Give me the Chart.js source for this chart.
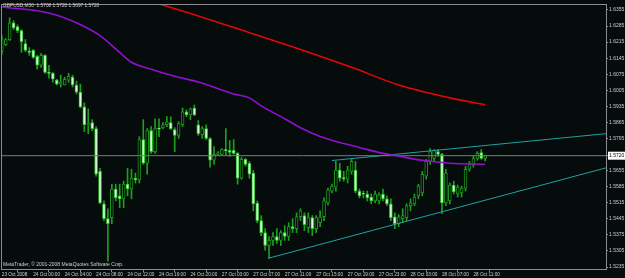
<!DOCTYPE html>
<html>
<head>
<meta charset="utf-8">
<script src="https://cdn.jsdelivr.net/npm/chart.js@4.4.1/dist/chart.umd.min.js"></script>
<style>
  html, body { margin: 0; padding: 0; background: #060b0b; }
</style>
</head>
<body>
<canvas id="grafico" width="625" height="278"></canvas>
<script>
// --- textos del gráfico
const simbolo = 'GBPUSD,M30';
const copyright = 'MetaTrader, \u00A9 2001-2008 MetaQuotes Software Corp.';

// --- eje de tiempo: barra -> etiqueta
const barrasTiempo = [0, 8, 16, 24, 32, 40, 48, 56, 64, 72, 80, 88, 96, 104, 112, 120];
const etiquetasTiempo = ['23 Oct 2008', '24 Oct 00:00', '24 Oct 04:00', '24 Oct 08:00', '24 Oct 12:00',
  '24 Oct 16:00', '24 Oct 20:00', '27 Oct 03:00', '27 Oct 07:00', '27 Oct 11:00', '27 Oct 15:00',
  '27 Oct 19:00', '27 Oct 23:00', '28 Oct 03:00', '28 Oct 07:00', '28 Oct 11:00'];

// --- eje de precios (derecha)
const preciosEje = [1.6355, 1.6285, 1.6215, 1.6145, 1.6075, 1.6005, 1.5935, 1.5865, 1.5795,
  1.5655, 1.5585, 1.5515, 1.5445, 1.5375, 1.5305, 1.5235];

// --- velas M30 (open, high, low, close)
const aperturas = [1.6174, 1.6204, 1.6226, 1.6299, 1.6282, 1.6265, 1.6209, 1.6174, 1.6179, 1.6153,
  1.6114, 1.6157, 1.6083, 1.6079, 1.6049, 1.6032, 1.6028, 1.6049, 1.6062, 1.6028,
  1.5997, 1.5933, 1.5855, 1.5864, 1.5838, 1.5652, 1.5510, 1.5446, 1.5450, 1.5575,
  1.5545, 1.5532, 1.5596, 1.5575, 1.5622, 1.5614, 1.5790, 1.5687, 1.5829, 1.5738,
  1.5838, 1.5842, 1.5855, 1.5864, 1.5834, 1.5808, 1.5855, 1.5911, 1.5898, 1.5928,
  1.5855, 1.5812, 1.5838, 1.5795, 1.5700, 1.5726, 1.5726, 1.5743, 1.5743, 1.5743,
  1.5730, 1.5622, 1.5704, 1.5687, 1.5644, 1.5514, 1.5437, 1.5385, 1.5329, 1.5351,
  1.5368, 1.5351, 1.5385, 1.5368, 1.5411, 1.5402, 1.5454, 1.5459, 1.5407, 1.5450,
  1.5402, 1.5428, 1.5454, 1.5514, 1.5566, 1.5583, 1.5657, 1.5622, 1.5618, 1.5652,
  1.5657, 1.5566, 1.5553, 1.5553, 1.5540, 1.5523, 1.5523, 1.5553, 1.5532, 1.5510,
  1.5454, 1.5424, 1.5446, 1.5450, 1.5502, 1.5510, 1.5545, 1.5558, 1.5631, 1.5695,
  1.5708, 1.5738, 1.5726, 1.5514, 1.5523, 1.5592, 1.5553, 1.5558, 1.5579, 1.5661,
  1.5682, 1.5708, 1.5734, 1.5708];
const maximos = [1.6243, 1.6230, 1.6321, 1.6308, 1.6290, 1.6269, 1.6226, 1.6191, 1.6183, 1.6157,
  1.6166, 1.6161, 1.6114, 1.6083, 1.6053, 1.6071, 1.6062, 1.6079, 1.6071, 1.6045,
  1.6032, 1.5950, 1.5924, 1.5877, 1.5847, 1.5665, 1.5523, 1.5489, 1.5596, 1.5596,
  1.5596, 1.5609, 1.5665, 1.5661, 1.5644, 1.5803, 1.5877, 1.5838, 1.5847, 1.5881,
  1.5881, 1.5864, 1.5890, 1.5890, 1.5842, 1.5868, 1.5928, 1.5920, 1.5928, 1.5941,
  1.5873, 1.5847, 1.5855, 1.5799, 1.5760, 1.5738, 1.5751, 1.5838, 1.5786, 1.5790,
  1.5734, 1.5713, 1.5708, 1.5695, 1.5657, 1.5523, 1.5459, 1.5402, 1.5368, 1.5385,
  1.5402, 1.5394, 1.5415, 1.5428, 1.5446, 1.5471, 1.5489, 1.5471, 1.5471, 1.5459,
  1.5459, 1.5480, 1.5536, 1.5579, 1.5596, 1.5695, 1.5687, 1.5652, 1.5674, 1.5704,
  1.5695, 1.5575, 1.5566, 1.5566, 1.5553, 1.5566, 1.5558, 1.5575, 1.5545, 1.5532,
  1.5471, 1.5463, 1.5489, 1.5510, 1.5532, 1.5553, 1.5596, 1.5652, 1.5704, 1.5751,
  1.5747, 1.5747, 1.5730, 1.5661, 1.5601, 1.5609, 1.5592, 1.5588, 1.5674, 1.5695,
  1.5717, 1.5738, 1.5747, 1.5720];
const minimos = [1.6161, 1.6200, 1.6222, 1.6269, 1.6256, 1.6170, 1.6174, 1.6157, 1.6144, 1.6097,
  1.6105, 1.6079, 1.6058, 1.6040, 1.6028, 1.6019, 1.6028, 1.6040, 1.6019, 1.5989,
  1.5928, 1.5825, 1.5816, 1.5829, 1.5631, 1.5510, 1.5437, 1.5260, 1.5424, 1.5523,
  1.5493, 1.5493, 1.5545, 1.5532, 1.5601, 1.5601, 1.5682, 1.5639, 1.5730, 1.5730,
  1.5803, 1.5838, 1.5847, 1.5834, 1.5738, 1.5795, 1.5847, 1.5890, 1.5877, 1.5894,
  1.5808, 1.5795, 1.5790, 1.5670, 1.5682, 1.5721, 1.5721, 1.5721, 1.5717, 1.5726,
  1.5596, 1.5618, 1.5674, 1.5622, 1.5480, 1.5428, 1.5372, 1.5308, 1.5273, 1.5329,
  1.5338, 1.5329, 1.5351, 1.5351, 1.5385, 1.5385, 1.5437, 1.5394, 1.5385, 1.5372,
  1.5385, 1.5411, 1.5437, 1.5506, 1.5558, 1.5566, 1.5609, 1.5609, 1.5601, 1.5639,
  1.5558, 1.5536, 1.5536, 1.5523, 1.5510, 1.5514, 1.5510, 1.5523, 1.5502, 1.5437,
  1.5402, 1.5411, 1.5428, 1.5437, 1.5480, 1.5502, 1.5532, 1.5545, 1.5618, 1.5682,
  1.5695, 1.5717, 1.5467, 1.5502, 1.5510, 1.5553, 1.5540, 1.5540, 1.5566, 1.5652,
  1.5670, 1.5700, 1.5704, 1.5697];
const cierres = [1.6230, 1.6226, 1.6299, 1.6277, 1.6265, 1.6217, 1.6179, 1.6170, 1.6148, 1.6114,
  1.6157, 1.6083, 1.6079, 1.6053, 1.6032, 1.6040, 1.6053, 1.6066, 1.6028, 1.5997,
  1.5933, 1.5855, 1.5860, 1.5838, 1.5639, 1.5514, 1.5446, 1.5424, 1.5575, 1.5536,
  1.5532, 1.5596, 1.5575, 1.5622, 1.5614, 1.5790, 1.5687, 1.5829, 1.5738, 1.5838,
  1.5836, 1.5855, 1.5868, 1.5838, 1.5808, 1.5860, 1.5911, 1.5898, 1.5924, 1.5898,
  1.5816, 1.5838, 1.5795, 1.5700, 1.5726, 1.5730, 1.5747, 1.5742, 1.5734, 1.5730,
  1.5622, 1.5704, 1.5682, 1.5639, 1.5510, 1.5437, 1.5385, 1.5329, 1.5351, 1.5368,
  1.5351, 1.5385, 1.5368, 1.5411, 1.5402, 1.5454, 1.5480, 1.5420, 1.5450, 1.5402,
  1.5450, 1.5454, 1.5523, 1.5571, 1.5588, 1.5657, 1.5622, 1.5620, 1.5657, 1.5695,
  1.5566, 1.5545, 1.5552, 1.5536, 1.5523, 1.5553, 1.5549, 1.5532, 1.5510, 1.5450,
  1.5424, 1.5454, 1.5459, 1.5502, 1.5514, 1.5540, 1.5588, 1.5639, 1.5695, 1.5738,
  1.5743, 1.5726, 1.5514, 1.5644, 1.5592, 1.5562, 1.5583, 1.5579, 1.5661, 1.5682,
  1.5708, 1.5730, 1.5708, 1.5720];

// --- medias móviles (barra, precio)
const mediaVioletaBarras = [0, 12, 19, 25, 30, 33, 38, 44, 50, 59, 63, 66, 72, 76, 81, 87, 91, 97, 101, 107, 114, 123];
const mediaVioletaPrecios = [1.6368, 1.6342, 1.6299, 1.6243, 1.6170, 1.6127, 1.6097, 1.6066, 1.6041, 1.5989, 1.5972,
  1.5937, 1.5881, 1.5842, 1.5804, 1.5773, 1.5756, 1.5730, 1.5718, 1.5700, 1.5687, 1.5683];
const mediaRojaBarras = [38, 50, 63, 76, 89, 101, 114, 123];
const mediaRojaPrecios = [1.6392, 1.6329, 1.6256, 1.6183, 1.6105, 1.6028, 1.5972, 1.5942];

// --- líneas de tendencia dibujadas
const tendenciaSupBarras = [84, 153.74];
const tendenciaSupPrecios = [1.5699, 1.5816];
const tendenciaInfBarras = [67.8, 153.74];
const tendenciaInfPrecios = [1.5273, 1.5667];

const ultimo = cierres.length - 1;
const precioActual = cierres[ultimo];
const FUENTE = '"Liberation Sans", Arial, sans-serif';
const FONDO = '#060b0b';
const GRIS = '#8c8c8c';

const indices = aperturas.map((_, i) => i);
const alcista = indices.map(i => cierres[i] >= aperturas[i]);
const puntos = (barras, precios) => barras.map((b, k) => ({ x: b, y: precios[k] }));

// fondo, marco y textos de MetaTrader
const marcoMT4 = {
  id: 'marcoMT4',
  beforeDraw(chart) {
    const c = chart.ctx;
    c.save();
    c.fillStyle = FONDO;
    c.fillRect(0, 0, chart.width, chart.height);
    c.restore();
  },
  afterDraw(chart) {
    const c = chart.ctx;
    const a = chart.chartArea;
    c.save();
    c.strokeStyle = GRIS;
    c.lineWidth = 1;
    c.strokeRect(a.left + 0.5, a.top + 0.5, a.right - a.left, a.bottom - a.top);
    c.fillStyle = '#d0d0d0';
    c.textBaseline = 'middle';
    c.font = '4.8px ' + FUENTE;
    const cab = simbolo + '  ' + [aperturas[ultimo], maximos[ultimo], minimos[ultimo], cierres[ultimo]]
      .map(v => v.toFixed(4)).join(' ');
    c.fillText(cab, 3, 5.5);
    c.font = '5px ' + FUENTE;
    c.fillText(copyright, 3, 265);
    c.restore();
  }
};

new Chart(document.getElementById('grafico'), {
  type: 'bar',
  data: {
    datasets: [
      {
        // mechas
        type: 'bar',
        data: indices.map(i => ({ x: i, y: [minimos[i], maximos[i]] })),
        backgroundColor: '#1f9f1f',
        borderWidth: 0,
        barThickness: 1,
        grouped: false,
        order: 4
      },
      {
        // cuerpos
        type: 'bar',
        data: indices.map(i => ({ x: i, y: [aperturas[i], cierres[i]] })),
        backgroundColor: ctx => alcista[ctx.dataIndex] ? FONDO : '#d6fad6',
        borderColor: ctx => alcista[ctx.dataIndex] ? '#1c951c' : '#2cc02c',
        borderWidth: 1,
        borderSkipped: false,
        barThickness: 3,
        minBarLength: 1,
        grouped: false,
        order: 3
      },
      {
        type: 'line',
        data: [{ x: -0.2, y: precioActual }, { x: 153.74, y: precioActual }],
        borderColor: '#7a7a7a',
        borderWidth: 1,
        pointRadius: 0,
        order: 2
      },
      {
        type: 'line',
        data: puntos(mediaVioletaBarras, mediaVioletaPrecios),
        borderColor: '#9010d0',
        borderWidth: 1.6,
        pointRadius: 0,
        cubicInterpolationMode: 'monotone',
        order: 1
      },
      {
        type: 'line',
        data: puntos(mediaRojaBarras, mediaRojaPrecios),
        borderColor: '#e00808',
        borderWidth: 1.6,
        pointRadius: 0,
        cubicInterpolationMode: 'monotone',
        order: 1
      },
      {
        type: 'line',
        data: puntos(tendenciaSupBarras, tendenciaSupPrecios),
        borderColor: '#1fa3a3',
        borderWidth: 1,
        pointRadius: 0,
        order: 1
      },
      {
        type: 'line',
        data: puntos(tendenciaInfBarras, tendenciaInfPrecios),
        borderColor: '#1fa3a3',
        borderWidth: 1,
        pointRadius: 0,
        order: 1
      }
    ]
  },
  options: {
    responsive: false,
    animation: false,
    devicePixelRatio: 1,
    layout: { padding: { top: 1, left: 1, right: 0, bottom: 0 } },
    plugins: {
      legend: { display: false },
      tooltip: { enabled: false },
      title: { display: false }
    },
    scales: {
      x: {
        type: 'linear',
        min: -0.2,
        max: 153.74,
        offset: false,
        afterBuildTicks: s => { s.ticks = barrasTiempo.map(v => ({ value: v })); },
        afterFit: s => { s.height = 9; },
        ticks: {
          autoSkip: false,
          maxRotation: 0,
          align: 'start',
          padding: 0,
          color: '#cfcfcf',
          font: { family: FUENTE, size: 4.7 },
          callback: (v, i) => etiquetasTiempo[i]
        },
        grid: { drawOnChartArea: false, tickLength: 3, color: GRIS },
        border: { display: false }
      },
      y: {
        type: 'linear',
        position: 'right',
        min: 1.52264,
        max: 1.63809,
        afterBuildTicks: s => {
          s.ticks = preciosEje.concat([precioActual]).map(v => ({ value: v }));
        },
        afterFit: s => { s.width = 19; },
        ticks: {
          padding: 1,
          color: ctx => ctx.tick && ctx.tick.value === precioActual ? '#000000' : '#cfcfcf',
          showLabelBackdrop: ctx => !!ctx.tick && ctx.tick.value === precioActual,
          backdropColor: '#ffffff',
          backdropPadding: { x: 1, y: 1 },
          font: { family: FUENTE, size: 5 },
          callback: v => v.toFixed(4)
        },
        grid: { drawOnChartArea: false, tickLength: 2, color: GRIS },
        border: { display: false }
      }
    }
  },
  plugins: [marcoMT4]
});
</script>
</body>
</html>
